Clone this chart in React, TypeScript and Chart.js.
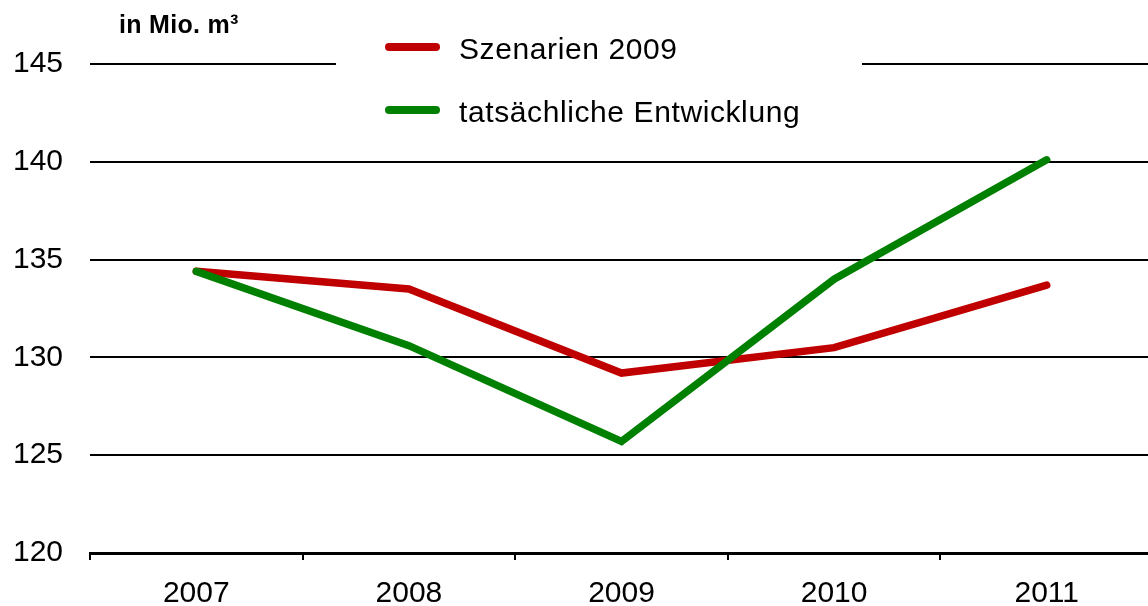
import React, { useEffect, useRef } from "react";
import { Chart, registerables } from "chart.js";

Chart.register(...registerables);

const years = ["2007", "2008", "2009", "2010", "2011"];
const szenarien = [134.4, 133.5, 129.2, 130.5, 133.7];
const tatsaechlich = [134.4, 130.6, 125.7, 134.0, 140.1];
const seriesNames = ["Szenarien 2009", "tatsächliche Entwicklung"];
const seriesColors = ["#C00000", "#008000"];
const unitLabel = "in Mio. m³";
const FONT = "'Liberation Sans', Arial, sans-serif";

const overlayPlugin = {
  id: "overlay",
  afterDraw(chart: any) {
    const ctx = chart.ctx;
    ctx.save();
    // white legend box
    ctx.fillStyle = "#ffffff";
    ctx.fillRect(336, 28, 526, 112);
    // unit label
    ctx.fillStyle = "#000";
    ctx.font = `bold 25px ${FONT}`;
    ctx.textBaseline = "alphabetic";
    ctx.textAlign = "left";
    try { (ctx as any).letterSpacing = "0.3px"; } catch (e) {}
    ctx.fillText(unitLabel, 119, 33);
    // legend
    const ys = [47, 110];
    const bases = [59, 122];
    ctx.font = `30px ${FONT}`;
    try { (ctx as any).letterSpacing = "0.6px"; } catch (e) {}
    for (let i = 0; i < seriesNames.length; i++) {
      ctx.strokeStyle = seriesColors[i];
      ctx.lineWidth = 8;
      ctx.lineCap = "round";
      ctx.beginPath();
      ctx.moveTo(389, ys[i]);
      ctx.lineTo(436, ys[i]);
      ctx.stroke();
      ctx.fillStyle = "#000";
      ctx.fillText(seriesNames[i], 459, bases[i]);
    }
    ctx.restore();
  },
};

export default function App() {
  const ref = useRef<HTMLCanvasElement>(null);
  useEffect(() => {
    if (!ref.current) return;
    const chart = new Chart(ref.current, {
      type: "line",
      data: {
        labels: years,
        datasets: [
          {
            label: seriesNames[0],
            data: szenarien,
            borderColor: seriesColors[0],
            backgroundColor: seriesColors[0],
            borderWidth: 7.5,
            pointRadius: 0,
            tension: 0,
            borderCapStyle: "round",
            order: 1,
          },
          {
            label: seriesNames[1],
            data: tatsaechlich,
            borderColor: seriesColors[1],
            backgroundColor: seriesColors[1],
            borderWidth: 7.5,
            pointRadius: 0,
            tension: 0,
            borderCapStyle: "round",
            order: 0,
          },
        ],
      },
      options: {
        animation: false,
        responsive: false,
        maintainAspectRatio: false,
        layout: { padding: { top: 64, left: 0, right: 0, bottom: 0 } },
        plugins: { legend: { display: false }, tooltip: { enabled: false } },
        scales: {
          x: {
            offset: true,
            grid: {
              offset: true,
              drawOnChartArea: false,
              drawTicks: true,
              tickLength: 7,
              color: "#000",
              lineWidth: 2,
            },
            border: { display: true, color: "#000", width: 3 },
            ticks: {
              color: "#000",
              font: { family: FONT, size: 30 },
              padding: 16,
              maxRotation: 0,
            },
            afterFit(scale: any) {
              scale.height = 53;
            },
          },
          y: {
            min: 120,
            max: 145,
            grid: { color: "#000", lineWidth: 2, drawTicks: false },
            border: { display: false },
            ticks: {
              stepSize: 5,
              color: "#000",
              font: { family: FONT, size: 30 },
              padding: 27,
            },
            afterFit(scale: any) {
              scale.width = 90;
            },
          },
        },
      },
      plugins: [overlayPlugin],
    } as any);
    return () => chart.destroy();
  }, []);
  return (
    <div
      style={{
        position: "fixed",
        left: 0,
        top: 0,
        width: 1148,
        height: 606,
        overflow: "hidden",
        background: "#fff",
      }}
    >
      <canvas ref={ref} width={1153} height={606} style={{ display: "block" }} />
    </div>
  );
}
